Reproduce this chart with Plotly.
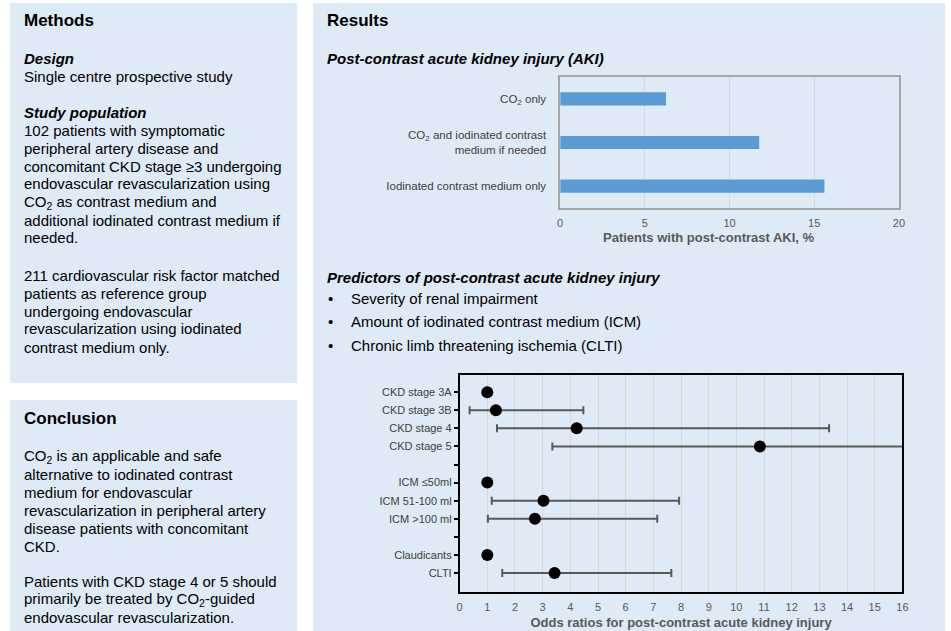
import plotly.graph_objects as go

W, H = 951, 631

# ---- data -------------------------------------------------------------
aki_groups = [
    "CO<sub>2</sub> only",
    "CO<sub>2</sub> and iodinated contrast<br>medium if needed",
    "Iodinated contrast medium only",
]
aki_pct = [6.25, 11.75, 15.6]
aki_ticks = [0, 5, 10, 15, 20]
aki_title = "<b>Patients with post-contrast AKI, %</b>"

or_labels = [
    "CKD stage 3A", "CKD stage 3B", "CKD stage 4", "CKD stage 5", " ",
    "ICM \u226450ml", "ICM 51-100 ml", "ICM >100 ml", "  ",
    "Claudicants", "CLTI",
]
or_value = [1.0, 1.31, 4.23, 10.85, None, 1.0, 3.03, 2.72, None, 1.0, 3.43]
or_lower = [None, 0.36, 1.35, 3.35, None, None, 1.16, 1.02, None, None, 1.54]
or_upper = [None, 4.47, 13.35, 36.0, None, None, 7.93, 7.14, None, None, 7.65]
or_ticks = list(range(0, 17))
or_title = "<b>Odds ratios for post-contrast acute kidney injury</b>"

methods_lines = [
    ("<b>Methods</b>", 17, 21),
    ("<b><i>Design</i></b>", 15, 58),
    ("Single centre prospective study", 15, 76),
    ("<b><i>Study population</i></b>", 15, 112),
    ("102 patients with symptomatic", 15, 130),
    ("peripheral artery disease and", 15, 148),
    ("concomitant CKD stage \u22653 undergoing", 15, 166),
    ("endovascular revascularization using", 15, 184),
    ("CO<sub>2</sub> as contrast medium and", 15, 202),
    ("additional iodinated contrast medium if", 15, 220),
    ("needed.", 15, 238),
    ("211 cardiovascular risk factor matched", 15, 275),
    ("patients as reference group", 15, 293),
    ("undergoing endovascular", 15, 311),
    ("revascularization using iodinated", 15, 329),
    ("contrast medium only.", 15, 347),
]
conclusion_lines = [
    ("<b>Conclusion</b>", 17, 418),
    ("CO<sub>2</sub> is an applicable and safe", 15, 456),
    ("alternative to iodinated contrast", 15, 474),
    ("medium for endovascular", 15, 492),
    ("revascularization in peripheral artery", 15, 510),
    ("disease patients with concomitant", 15, 528),
    ("CKD.", 15, 546),
    ("Patients with CKD stage 4 or 5 should", 15, 581),
    ("primarily be treated by CO<sub>2</sub>-guided", 15, 599),
    ("endovascular revascularization.", 15, 617),
]
results_lines = [
    ("<b>Results</b>", 17, 21),
    ("<b><i>Post-contrast acute kidney injury (AKI)</i></b>", 15, 58),
    ("<b><i>Predictors of post-contrast acute kidney injury</i></b>", 15, 277),
]
bullets = [
    ("Severity of renal impairment", 298),
    ("Amount of iodinated contrast medium (ICM)", 321),
    ("Chronic limb threatening ischemia (CLTI)", 345),
]

# ---- styling ----------------------------------------------------------
PANEL = "#DEEAF6"
BAR = "#5B9BD5"
FONT = "Liberation Sans, Arial, sans-serif"
LABEL = "#404040"
TICK = "#595959"


def px_x(x):
    return x / W


def px_y(y):
    return 1 - y / H


fig = go.Figure()

# AKI incidence bars
fig.add_trace(go.Bar(
    x=aki_pct, y=aki_groups, orientation="h",
    marker=dict(color=BAR, line=dict(width=0)),
    width=0.3, xaxis="x", yaxis="y", showlegend=False,
))

# Odds ratio forest plot
err_plus = [None if u is None else u - v for u, v in zip(or_upper, or_value)]
err_minus = [None if l is None else v - l for l, v in zip(or_lower, or_value)]
fig.add_trace(go.Scatter(
    x=or_value, y=or_labels, mode="markers",
    marker=dict(color="black", size=12),
    error_x=dict(type="data", symmetric=False, array=err_plus,
                 arrayminus=err_minus, color=TICK, thickness=2, width=4),
    xaxis="x2", yaxis="y2", showlegend=False,
))

shapes = [
    dict(type="rect", xref="paper", yref="paper", layer="below",
         x0=px_x(x0), x1=px_x(x1), y0=px_y(y1), y1=px_y(y0),
         fillcolor=PANEL, line=dict(width=0))
    for (x0, y0, x1, y1) in [(7, 3, 297, 383), (7, 400, 297, 631), (313, 3, 951, 631)]
]

annotations = []


def add_text(text, x, y, size, color="black", xanchor="left"):
    annotations.append(dict(
        text=text, x=px_x(x), y=px_y(y), xref="paper", yref="paper",
        xanchor=xanchor, yanchor="middle", showarrow=False,
        font=dict(family=FONT, size=size, color=color),
    ))


for lines, x in [(methods_lines, 19), (conclusion_lines, 19), (results_lines, 325)]:
    for text, size, y in lines:
        add_text(text, x, y, size)
for text, y in bullets:
    add_text("\u2022", 326, y, 15)
    add_text(text, 349, y, 15)

# x-axis title of the AKI chart, centred under the whole chart block
add_text(aki_title, 713, 238, 13, color=TICK, xanchor="center")

fig.update_layout(
    width=W, height=H, margin=dict(l=0, r=0, t=0, b=0),
    paper_bgcolor="white", plot_bgcolor=PANEL,
    font=dict(family=FONT, color=LABEL),
    shapes=shapes, annotations=annotations, bargap=0.7,
    xaxis=dict(
        domain=[px_x(562.5), px_x(904.5)], anchor="y",
        range=[0, 20], tickvals=aki_ticks, showgrid=True, gridcolor="#D9D9D9", gridwidth=1,
        zeroline=False, showline=True, linecolor="#A6A6A6", linewidth=1.5, mirror=True,
        ticks="", tickfont=dict(size=11, color=TICK), ticklabelstandoff=4,
    ),
    yaxis=dict(
        domain=[px_y(208), px_y(77)], anchor="x",
        categoryorder="array", categoryarray=aki_groups, autorange="reversed",
        showline=True, linecolor="#A6A6A6", linewidth=1.5, mirror=True,
        showgrid=False, ticks="", ticklabelstandoff=10,
        tickfont=dict(size=11.5, color=LABEL),
    ),
    xaxis2=dict(
        domain=[px_x(461), px_x(908)], anchor="y2",
        range=[0, 16], tickvals=or_ticks, showgrid=True, gridcolor="#DDD6CF", gridwidth=1,
        zeroline=False, showline=True, linecolor="black", linewidth=1.5, mirror=True,
        ticks="", tickfont=dict(size=11, color=TICK), ticklabelstandoff=4,
        title=dict(text=or_title, standoff=6, font=dict(size=13, color=TICK)),
    ),
    yaxis2=dict(
        domain=[px_y(592), px_y(375)], anchor="x2",
        categoryorder="array", categoryarray=or_labels,
        range=[11.05, -0.95],
        showline=True, linecolor="black", linewidth=1.5, mirror=True,
        showgrid=False, ticks="outside", ticklen=4, tickcolor="black", tickwidth=1.5,
        ticklabelstandoff=0, tickfont=dict(size=11, color=LABEL),
    ),
)

fig.write_html("out.html")
